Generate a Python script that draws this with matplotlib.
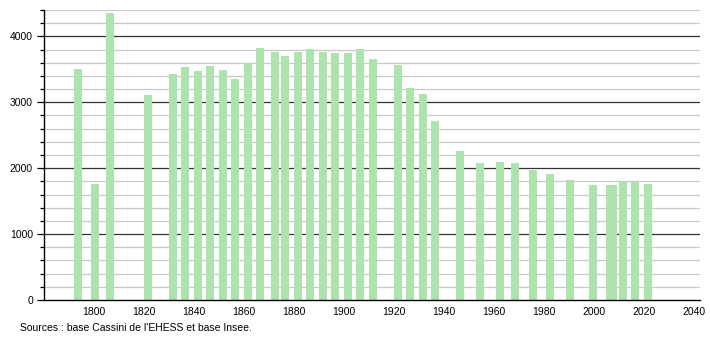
import matplotlib
matplotlib.use("Agg")
import matplotlib.pyplot as plt
from matplotlib.ticker import MultipleLocator

years = [1793, 1800, 1806, 1821, 1831, 1836, 1841, 1846, 1851, 1856,
         1861, 1866, 1872, 1876, 1881, 1886, 1891, 1896, 1901, 1906,
         1911, 1921, 1926, 1931, 1936, 1946, 1954, 1962, 1968, 1975,
         1982, 1990, 1999, 2006, 2007, 2011, 2016, 2021]
population = [3510, 1760, 4360, 3110, 3425, 3530, 3475, 3545, 3485, 3350,
              3600, 3830, 3765, 3705, 3765, 3805, 3765, 3745, 3745, 3805,
              3660, 3565, 3215, 3130, 2710, 2255, 2075, 2090, 2085, 1965,
              1905, 1825, 1740, 1740, 1740, 1790, 1790, 1765]
xticks = list(range(1800, 2041, 20))
source_text = "Sources : base Cassini de l'EHESS et base Insee."

plt.rcParams['font.family'] = ['Liberation Sans', 'DejaVu Sans']

fig = plt.figure(figsize=(7.1, 3.4), dpi=100)
ax = fig.add_axes([44/710, 1 - 300/340, (700 - 44)/710, (300 - 10)/340])

ax.set_xlim(1780, 2042.5)
ax.set_ylim(0, 4400)

# grid lines
for v in range(200, 4401, 200):
    if v % 1000 == 0:
        ax.axhline(v, color='#333333', lw=0.9, zorder=1)
    else:
        ax.axhline(v, color='#c8c8c8', lw=0.9, zorder=1)

ax.bar([y + 0.5 for y in years], population, width=3.2,
       color='#ade3ad', zorder=2, linewidth=0)

ax.yaxis.set_major_locator(MultipleLocator(1000))
ax.yaxis.set_minor_locator(MultipleLocator(200))
ax.set_xticks(xticks)
ax.tick_params(axis='x', length=0, labelsize=7.5, pad=5)
ax.tick_params(axis='y', which='major', length=5, width=0.9, labelsize=7.5, pad=3)
ax.tick_params(axis='y', which='minor', length=3, width=0.9)

for s in ['top', 'right']:
    ax.spines[s].set_visible(False)
ax.spines['left'].set_linewidth(1.0)
ax.spines['bottom'].set_linewidth(1.0)

fig.text(20/710, 1 - 328/340, source_text, fontsize=7.5, va='center', ha='left')

fig.savefig("out.png", dpi=100)
